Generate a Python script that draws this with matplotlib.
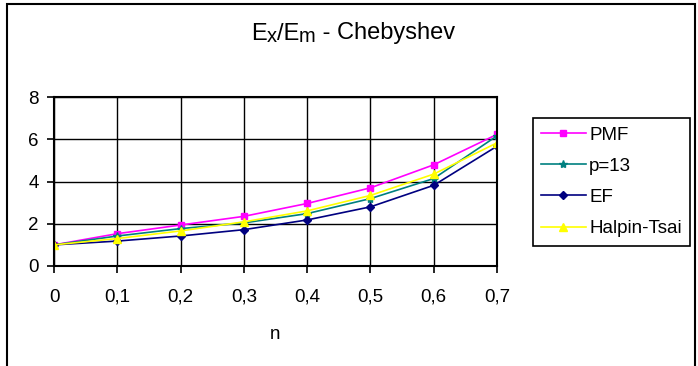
# Ex/Em - Chebyshev
#
import matplotlib
matplotlib.use('Agg')
import matplotlib.pyplot as plt
from matplotlib.patches import Rectangle

plt.rcParams['font.family'] = ['Liberation Sans', 'DejaVu Sans']

# Data
n = [0, 0.1, 0.2, 0.3, 0.4, 0.5, 0.6, 0.7]
pmf = [1.0, 1.53, 1.94, 2.35, 2.96, 3.70, 4.79, 6.23]
p13 = [1.0, 1.42, 1.77, 2.04, 2.48, 3.19, 4.14, 6.16]
ef = [1.0, 1.18, 1.42, 1.72, 2.18, 2.80, 3.82, 5.67]
halpin = [1.0, 1.30, 1.66, 2.09, 2.61, 3.34, 4.35, 5.83]
xtick_labels = ['0', '0,1', '0,2', '0,3', '0,4', '0,5', '0,6', '0,7']

W, H = 698, 366
fig = plt.figure(figsize=(W / 100, H / 100), dpi=100)
ax = fig.add_axes([54 / W, 1 - 266 / H, 443 / W, 169 / H])

ax.plot(n, pmf, color='#FF00FF', marker='s', markersize=5, lw=1.2, label='PMF')
ax.plot(n, p13, color='#008080', marker='*', markersize=6, lw=1.2, label='p=13')
ax.plot(n, ef, color='#000080', marker='D', markersize=4.5, lw=1.2, label='EF')
ax.plot(n, halpin, color='#FFFF00', marker='^', markersize=6, lw=1.2, label='Halpin-Tsai')

ax.set_xlim(0, 0.7)
ax.set_ylim(0, 8)
ax.set_xticks(n)
ax.set_xticklabels(xtick_labels)
ax.set_yticks([0, 2, 4, 6, 8])
ax.grid(True, color='black', lw=1.0)
ax.set_axisbelow(True)
for s in ax.spines.values():
    s.set_linewidth(1.5)
ax.tick_params(direction='out', length=5, width=1.2, labelsize=13.5, colors='black')
ax.tick_params(axis='x', pad=11.5)
ax.tick_params(axis='y', pad=6)
ax.set_xlabel('n', fontsize=13.5, labelpad=14.5)

# title with Excel-like subscripts, built from pieces
renderer = fig.canvas.get_renderer()
pieces = [('E', 17, 0), ('x', 14.5, -2.5), ('/E', 17, 0), ('m', 14.5, -2.5), (' - Chebyshev', 17, 0)]
texts = []
widths = []
for s, fs, dy in pieces:
    t = fig.text(0, 0, s, fontsize=fs, va='baseline', ha='left')
    texts.append((t, dy))
    widths.append(t.get_window_extent(renderer).width)
x0 = 353 - sum(widths) / 2
for (t, dy), w in zip(texts, widths):
    t.set_position((x0 / W, (H - 39.5 + dy) / H))
    x0 += w

leg = fig.legend(loc='upper left', bbox_to_anchor=(533 / W, 1 - 118 / H),
                 fontsize=13.5, frameon=True, fancybox=False, framealpha=1,
                 edgecolor='black', handlelength=2.35, handletextpad=0.2,
                 labelspacing=0.75, borderpad=0.45, borderaxespad=0)
leg.get_frame().set_linewidth(1.2)

# chart border
fig.patches.append(Rectangle((7 / W, -0.1), 688 / W, 1.1 - 4 / H, transform=fig.transFigure,
                             fill=False, edgecolor='black', lw=1.5))

plt.savefig('out.png', dpi=100)
